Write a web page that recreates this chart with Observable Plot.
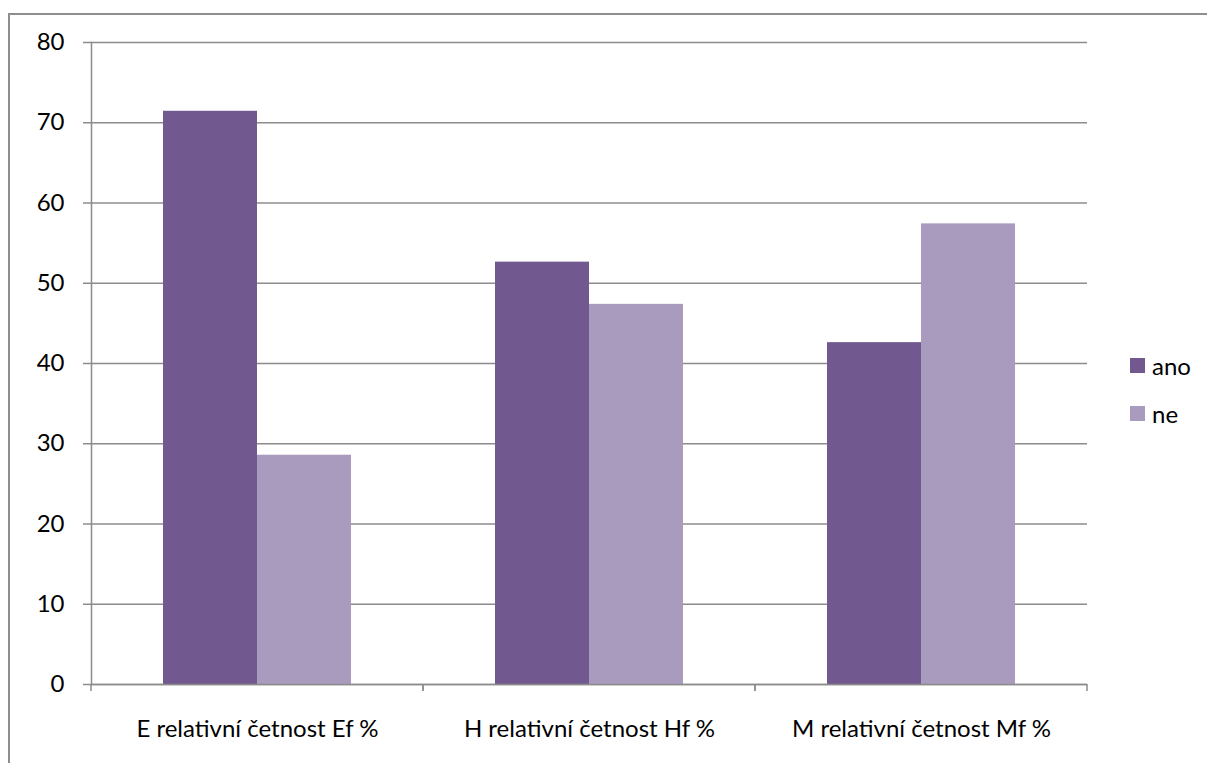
<!DOCTYPE html>
<html>
<head>
<meta charset="utf-8">
<script src="https://cdn.jsdelivr.net/npm/d3@7"></script>
<script src="https://cdn.jsdelivr.net/npm/@observablehq/plot@0.6"></script>
<style>
  body { margin: 0; background: #fff; font-family: Lato, "Open Sans", sans-serif; }
  #wrap { position: relative; width: 1207px; height: 763px; overflow: hidden; background: #fff; }
  #frame { position: absolute; left: 8px; top: 13px; width: 1400px; height: 1000px;
           border: 2px solid #8e8e8e; box-sizing: border-box; }
  #chart { position: absolute; left: 0; top: 0; }
  #legend { position: absolute; left: 1130px; top: 341px; font-size: 24px; color: #000; }
  .item { display: flex; align-items: center; height: 48px; }
  .swatch { width: 15px; height: 15px; margin-right: 7px; }
</style>
</head>
<body>
<div id="wrap">
  <div id="frame"></div>
  <div id="chart"></div>
  <div id="legend"></div>
</div>
<script>
// Share of answers per subject (percent)
const categories = ["E relativní četnost Ef %", "H relativní četnost Hf %", "M relativní četnost Mf %"];
const series = ["ano", "ne"];
const ano = [71.43, 52.63, 42.6];
const ne = [28.57, 47.37, 57.4];
const yTicks = [0, 10, 20, 30, 40, 50, 60, 70, 80];
const colors = ["#71598f", "#a99bbe"];

const data = categories.flatMap((c, i) => [
  {category: c, series: "ano", value: ano[i]},
  {category: c, series: "ne", value: ne[i]}
]);

const axisGray = "#8c8c8c";
const fontSize = 24;

// Small tick marks at the category boundaries, below the x axis line
function boundaryTicks(index, scales, values, dims) {
  const x = scales.x, y = scales.y;
  const [x0, x1] = x.range();
  const y0 = y(0);
  const g = d3.create("svg:g").attr("stroke", axisGray).attr("stroke-width", 1.5);
  for (const px of [x0, x1]) {
    g.append("line").attr("x1", px).attr("x2", px).attr("y1", y0).attr("y2", y0 + 7);
  }
  return g.node();
}

const chart = Plot.plot({
  width: 1207,
  height: 763,
  marginLeft: 90,
  marginRight: 120,
  marginTop: 42,
  marginBottom: 79,
  style: {fontFamily: "Lato, 'Open Sans', sans-serif", fontSize: `${fontSize}px`, color: "#000", background: "transparent"},
  fx: {domain: categories, padding: 0, label: null, axis: null},
  x: {domain: series, paddingInner: 0, paddingOuter: 0.75, axis: null},
  y: {domain: [0, 80], label: null, axis: null},
  color: {domain: series, range: colors},
  marks: [
    Plot.gridY(yTicks, {stroke: axisGray, strokeOpacity: 1, strokeWidth: 1.5}),
    Plot.axisY(yTicks, {tickSize: 8, tickPadding: 19, stroke: axisGray, strokeWidth: 1.5, fill: "#000", fontSize, label: null}),
    Plot.frame({anchor: "left", facetAnchor: "left", stroke: axisGray, strokeWidth: 1.5}),
    Plot.barY(data, {fx: "category", x: "series", y: "value", fill: "series"}),
    Plot.ruleY([0], {stroke: axisGray, strokeWidth: 1.5}),
    boundaryTicks,
    Plot.axisFx({anchor: "bottom", tickSize: 0, tickPadding: 35, fontSize, label: null, fill: "#000"})
  ]
});
document.getElementById("chart").append(chart);

// Legend on the right
const legend = d3.select("#legend");
series.forEach((s, i) => {
  const item = legend.append("div").attr("class", "item");
  item.append("div").attr("class", "swatch").style("background", colors[i]);
  item.append("span").text(s);
});
</script>
</body>
</html>
